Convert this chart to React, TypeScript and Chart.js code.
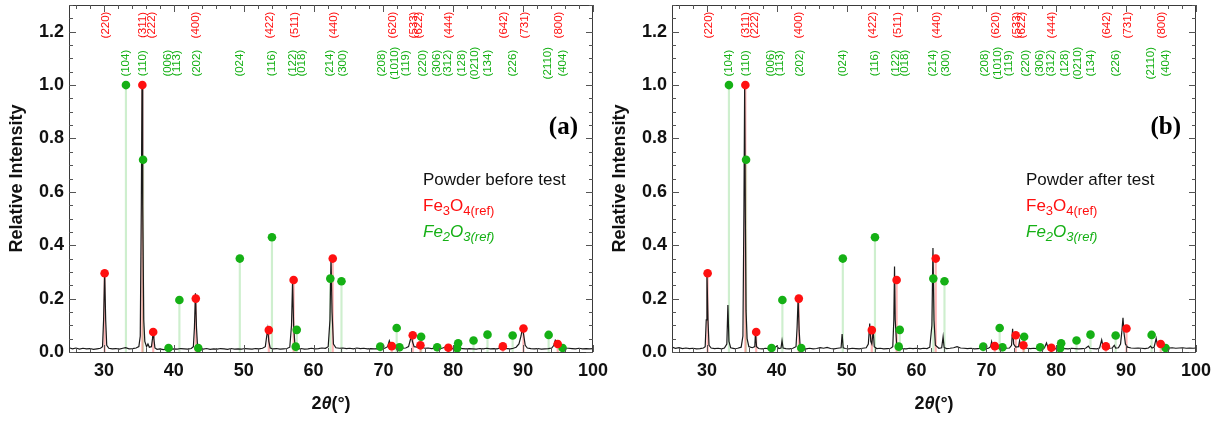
import React, { useEffect, useRef } from 'react';
import { Chart, registerables } from 'chart.js';

Chart.register(...registerables);

// ---------- DATA ----------
// Measured XRD scan, powder before test: [2θ, relative intensity]
const scanBefore: [number, number][] = [
  [25.0, 0.016], [25.5, 0.012], [26.0, 0.015], [26.5, 0.011], [27.0, 0.014], [27.5, 0.012], [28.0, 0.013],
  [28.5, 0.010], [29.0, 0.012], [29.5, 0.014], [29.8, 0.02], [29.95, 0.12], [30.1, 0.30], [30.25, 0.12],
  [30.4, 0.025], [30.7, 0.014], [31.2, 0.012], [31.7, 0.013], [32.2, 0.011], [32.7, 0.014], [33.1, 0.016],
  [33.6, 0.012], [34.1, 0.013], [34.6, 0.015], [35.0, 0.02], [35.2, 0.06], [35.35, 0.55], [35.45, 1.0],
  [35.55, 0.55], [35.7, 0.12], [35.85, 0.04], [36.1, 0.02], [36.3, 0.03], [36.5, 0.018], [36.8, 0.02],
  [36.95, 0.05], [37.05, 0.08], [37.15, 0.05], [37.3, 0.015], [37.6, 0.01], [38.0, 0.012], [38.5, 0.009],
  [39.0, 0.011], [39.5, 0.01], [40.0, 0.012], [40.5, 0.011], [41.0, 0.013], [41.5, 0.012], [42.0, 0.011],
  [42.5, 0.013], [42.8, 0.02], [42.95, 0.09], [43.1, 0.22], [43.25, 0.09], [43.4, 0.02], [43.7, 0.012],
  [44.2, 0.011], [44.7, 0.013], [45.2, 0.01], [45.7, 0.012], [46.2, 0.011], [46.7, 0.013], [47.2, 0.012],
  [47.7, 0.01], [48.2, 0.013], [48.7, 0.011], [49.2, 0.012], [49.7, 0.011], [50.2, 0.013], [50.7, 0.012],
  [51.2, 0.011], [51.7, 0.013], [52.2, 0.012], [52.7, 0.014], [53.1, 0.02], [53.3, 0.06], [53.45, 0.086],
  [53.6, 0.04], [53.8, 0.015], [54.2, 0.012], [54.7, 0.013], [55.2, 0.011], [55.7, 0.012], [56.2, 0.013],
  [56.6, 0.018], [56.85, 0.1], [57.0, 0.267], [57.15, 0.1], [57.35, 0.02], [57.7, 0.012], [58.2, 0.013],
  [58.7, 0.011], [59.2, 0.012], [59.7, 0.014], [60.2, 0.012], [60.7, 0.013], [61.2, 0.015], [61.7, 0.014],
  [62.1, 0.02], [62.35, 0.12], [62.5, 0.357], [62.65, 0.15], [62.85, 0.03], [63.2, 0.016], [63.7, 0.014],
  [64.2, 0.015], [64.7, 0.013], [65.2, 0.014], [65.7, 0.012], [66.2, 0.015], [66.7, 0.013], [67.2, 0.014],
  [67.7, 0.012], [68.2, 0.013], [68.7, 0.012], [69.2, 0.013], [69.7, 0.012], [70.2, 0.014], [70.6, 0.02],
  [70.85, 0.042], [71.0, 0.03], [71.3, 0.02], [71.7, 0.016], [72.2, 0.015], [72.7, 0.014], [73.2, 0.015],
  [73.6, 0.02], [73.85, 0.045], [74.0, 0.062], [74.15, 0.04], [74.4, 0.02], [74.8, 0.018], [75.1, 0.025],
  [75.25, 0.03], [75.5, 0.018], [75.9, 0.014], [76.4, 0.015], [76.9, 0.013], [77.4, 0.014], [77.9, 0.012],
  [78.4, 0.014], [78.8, 0.018], [79.0, 0.022], [79.3, 0.014], [79.8, 0.013], [80.3, 0.012], [80.8, 0.014],
  [81.3, 0.013], [81.8, 0.012], [82.3, 0.013], [82.8, 0.012], [83.3, 0.011], [83.8, 0.013], [84.3, 0.012],
  [84.8, 0.014], [85.3, 0.012], [85.8, 0.013], [86.3, 0.012], [86.7, 0.016], [86.95, 0.022], [87.2, 0.014],
  [87.7, 0.013], [88.2, 0.012], [88.6, 0.014], [89.0, 0.018], [89.4, 0.03], [89.7, 0.06], [89.9, 0.09],
  [90.1, 0.06], [90.3, 0.025], [90.6, 0.015], [91.1, 0.013], [91.6, 0.012], [92.1, 0.013], [92.6, 0.011],
  [93.1, 0.012], [93.6, 0.013], [94.1, 0.015], [94.4, 0.025], [94.6, 0.044], [94.8, 0.035], [95.1, 0.025],
  [95.5, 0.018], [96.0, 0.015], [96.5, 0.014], [97.0, 0.013], [97.5, 0.012], [98.0, 0.014], [98.5, 0.012],
  [99.0, 0.013], [99.5, 0.012], [100.0, 0.013],
];

// Measured XRD scan, powder after test
const scanAfter: [number, number][] = [
  [25.0, 0.018], [25.5, 0.014], [26.0, 0.016], [26.5, 0.013], [27.0, 0.015], [27.5, 0.013], [28.0, 0.014],
  [28.5, 0.012], [29.0, 0.013], [29.5, 0.015], [29.75, 0.02], [29.9, 0.12], [30.0, 0.30], [30.15, 0.12],
  [30.3, 0.025], [30.6, 0.015], [31.1, 0.013], [31.6, 0.014], [32.1, 0.012], [32.5, 0.015], [32.85, 0.03],
  [33.0, 0.176], [33.15, 0.04], [33.4, 0.016], [33.9, 0.013], [34.4, 0.014], [34.9, 0.018], [35.15, 0.06],
  [35.3, 0.55], [35.4, 1.0], [35.5, 0.5], [35.6, 0.154], [35.75, 0.05], [36.0, 0.02], [36.5, 0.016],
  [36.85, 0.02], [36.95, 0.075], [37.1, 0.02], [37.4, 0.013], [37.9, 0.012], [38.4, 0.014], [38.9, 0.012],
  [39.3, 0.013], [39.7, 0.016], [40.0, 0.022], [40.3, 0.013], [40.6, 0.015], [40.75, 0.042], [40.9, 0.015],
  [41.3, 0.013], [41.8, 0.012], [42.3, 0.014], [42.75, 0.02], [42.9, 0.09], [43.05, 0.2], [43.2, 0.08],
  [43.35, 0.018], [43.7, 0.013], [44.2, 0.012], [44.7, 0.014], [45.2, 0.012], [45.7, 0.013], [46.2, 0.016],
  [46.7, 0.014], [47.2, 0.017], [47.7, 0.013], [48.2, 0.012], [48.7, 0.014], [49.2, 0.016], [49.35, 0.067],
  [49.5, 0.016], [49.8, 0.013], [50.3, 0.012], [50.8, 0.014], [51.3, 0.013], [51.8, 0.012], [52.3, 0.014],
  [52.8, 0.016], [53.1, 0.03], [53.3, 0.107], [53.45, 0.04], [53.6, 0.03], [53.8, 0.082], [53.95, 0.02],
  [54.3, 0.013], [54.8, 0.014], [55.3, 0.012], [55.8, 0.013], [56.3, 0.014], [56.6, 0.02], [56.75, 0.12],
  [56.85, 0.32], [56.95, 0.12], [57.15, 0.03], [57.5, 0.014], [58.0, 0.013], [58.5, 0.012], [59.0, 0.014],
  [59.5, 0.013], [60.0, 0.014], [60.5, 0.012], [61.0, 0.014], [61.5, 0.013], [61.9, 0.018], [62.2, 0.1],
  [62.35, 0.39], [62.5, 0.12], [62.7, 0.025], [63.2, 0.014], [63.6, 0.016], [63.8, 0.057], [63.95, 0.017],
  [64.3, 0.013], [64.8, 0.014], [65.3, 0.016], [65.8, 0.02], [66.3, 0.015], [66.8, 0.014], [67.3, 0.013],
  [67.8, 0.014], [68.3, 0.012], [68.8, 0.013], [69.3, 0.014], [69.8, 0.012], [70.3, 0.014], [70.6, 0.02],
  [70.75, 0.039], [70.9, 0.02], [71.3, 0.016], [71.8, 0.014], [72.3, 0.013], [72.8, 0.014], [73.3, 0.015],
  [73.6, 0.025], [73.75, 0.087], [73.9, 0.03], [74.2, 0.018], [74.6, 0.02], [74.75, 0.042], [74.9, 0.02],
  [75.3, 0.015], [75.8, 0.014], [76.3, 0.013], [76.8, 0.014], [77.3, 0.012], [77.8, 0.013], [78.3, 0.015],
  [78.6, 0.034], [78.8, 0.018], [79.2, 0.014], [79.7, 0.013], [80.2, 0.012], [80.7, 0.014], [81.2, 0.013],
  [81.7, 0.012], [82.2, 0.014], [82.7, 0.013], [83.2, 0.012], [83.7, 0.013], [84.2, 0.014], [84.6, 0.022],
  [84.8, 0.014], [85.3, 0.013], [85.8, 0.012], [86.2, 0.015], [86.5, 0.045], [86.7, 0.02], [87.1, 0.015],
  [87.6, 0.014], [88.0, 0.015], [88.3, 0.025], [88.5, 0.015], [88.9, 0.016], [89.2, 0.03], [89.4, 0.08],
  [89.55, 0.128], [89.7, 0.07], [89.9, 0.03], [90.2, 0.018], [90.7, 0.015], [91.2, 0.014], [91.7, 0.015],
  [92.2, 0.014], [92.7, 0.013], [93.2, 0.015], [93.5, 0.022], [93.7, 0.015], [94.0, 0.018], [94.2, 0.04],
  [94.3, 0.051], [94.45, 0.03], [94.7, 0.02], [95.1, 0.017], [95.6, 0.016], [96.1, 0.015], [96.6, 0.016],
  [97.1, 0.014], [97.6, 0.015], [98.1, 0.016], [98.6, 0.014], [99.1, 0.015], [99.6, 0.014], [100.0, 0.015],
];

// Fe3O4 reference peaks
const fe3o4Pos = [30.1, 35.5, 37.05, 43.15, 53.6, 57.15, 62.75, 71.2, 74.2, 75.3, 79.3, 87.1, 90.05, 94.95];
const fe3o4Int = [0.295, 1.0, 0.075, 0.2, 0.082, 0.27, 0.35, 0.022, 0.063, 0.025, 0.016, 0.021, 0.088, 0.03];
const fe3o4Labels = ['(220)', '(311)', '(222)', '(400)', '(422)', '(511)', '(440)', '(620)', '(533)', '(622)', '(444)', '(642)', '(731)', '(800)'];
const fe3o4LabelPos = [30.2, 35.5, 36.85, 43.2, 53.7, 57.3, 62.9, 71.3, 74.4, 75.1, 79.4, 87.2, 90.2, 95.1];

// Fe2O3 reference peaks
const fe2o3Pos = [33.15, 35.6, 39.25, 40.8, 43.5, 49.45, 54.05, 57.45, 57.6, 62.4, 64.0, 69.55, 71.9, 72.3, 75.4, 77.7, 80.55, 80.7, 82.9, 84.9, 88.5, 93.65, 95.65];
const fe2o3Int = [1.0, 0.72, 0.015, 0.195, 0.015, 0.35, 0.43, 0.02, 0.083, 0.275, 0.265, 0.02, 0.09, 0.018, 0.057, 0.018, 0.014, 0.033, 0.043, 0.065, 0.062, 0.064, 0.015];
const fe2o3Labels = ['(104)', '(110)', '(006)', '(113)', '(202)', '(024)', '(116)', '(122)', '(018)', '(214)', '(300)', '(208)', '(1010)', '(119)', '(220)', '(306)', '(312)', '(128)', '(0210)', '(134)', '(226)', '(2110)', '(404)'];
const fe2o3LabelPos = [33.1, 35.6, 39.2, 40.5, 43.3, 49.5, 54.0, 57.05, 58.3, 62.3, 64.2, 69.8, 71.6, 73.2, 75.6, 77.6, 79.2, 81.2, 83.1, 84.95, 88.5, 93.5, 95.7];

const xTickValues = [30, 40, 50, 60, 70, 80, 90, 100];
const yTickValues = [0, 0.2, 0.4, 0.6, 0.8, 1.0, 1.2];

// ---------- STYLE ----------
const RED = '#ff1010';
const GREEN = '#15b015';
const SANS = '"Liberation Sans", Arial, sans-serif';

const decorPlugin = {
  id: 'decor',
  afterDatasetsDraw(chart: any) {
    const { ctx, chartArea: a, scales } = chart;
    const x = scales.x;
    const y = scales.y;
    ctx.save();
    ctx.strokeStyle = '#3a3a3a';
    ctx.lineWidth = 1;
    ctx.strokeRect(Math.round(a.left) + 0.5, Math.round(a.top) + 0.5, Math.round(a.right - a.left) - 1, Math.round(a.bottom - a.top));
    ctx.strokeStyle = '#555';
    ctx.beginPath();
    for (let v = 26; v <= 100.001; v += 2) {
      const px = Math.round(x.getPixelForValue(v)) + 0.5;
      const len = Math.abs(v % 10) < 1e-6 ? 7 : 4;
      ctx.moveTo(px, a.bottom); ctx.lineTo(px, a.bottom - len);
      ctx.moveTo(px, a.top); ctx.lineTo(px, a.top + len);
    }
    for (let i = 0; i <= 26; i++) {
      const v = i * 0.05;
      const py = Math.round(y.getPixelForValue(v)) + 0.5;
      const len = i % 4 === 0 ? 7 : 4;
      ctx.moveTo(a.left, py); ctx.lineTo(a.left + len, py);
      ctx.moveTo(a.right, py); ctx.lineTo(a.right - len, py);
    }
    ctx.stroke();
    ctx.restore();
  },
  afterDraw(chart: any, _args: any, opts: any) {
    const { ctx, chartArea: a, scales } = chart;
    const x = scales.x;
    const y = scales.y;
    ctx.save();
    ctx.font = `11.5px ${SANS}`;
    ctx.textAlign = 'center';
    ctx.textBaseline = 'middle';
    const drawRot = (txt: string, xv: number, yv: number, color: string) => {
      ctx.save();
      ctx.translate(x.getPixelForValue(xv), y.getPixelForValue(yv));
      ctx.rotate(-Math.PI / 2);
      ctx.fillStyle = color;
      ctx.fillText(txt, 0, 0);
      ctx.restore();
    };
    fe3o4Labels.forEach((t, i) => drawRot(t, fe3o4LabelPos[i], 1.225, RED));
    fe2o3Labels.forEach((t, i) => drawRot(t, fe2o3LabelPos[i], 1.082, GREEN));

    ctx.fillStyle = '#111';
    ctx.font = `bold 18px ${SANS}`;
    ctx.save();
    ctx.translate(17, (a.top + a.bottom) / 2);
    ctx.rotate(-Math.PI / 2);
    ctx.textAlign = 'center';
    ctx.textBaseline = 'middle';
    ctx.fillText('Relative Intensity', 0, 0);
    ctx.restore();

    const parts: [string, string][] = [['2', `bold 18px ${SANS}`], ['θ', `italic bold 18px ${SANS}`], ['(°)', `bold 18px ${SANS}`]];
    let total = 0;
    parts.forEach(([t, f]) => { ctx.font = f; total += ctx.measureText(t).width; });
    let cx = (a.left + a.right) / 2 - total / 2;
    ctx.textAlign = 'left';
    ctx.textBaseline = 'alphabetic';
    parts.forEach(([t, f]) => { ctx.font = f; ctx.fillText(t, cx, 409); cx += ctx.measureText(t).width; });

    ctx.font = 'bold 25px "Liberation Serif", "Times New Roman", serif';
    ctx.textAlign = 'right';
    ctx.fillStyle = '#000';
    ctx.fillText(opts.tag, 578, 134);

    ctx.textAlign = 'left';
    const lx = 423;
    ctx.font = `17px ${SANS}`;
    ctx.fillStyle = '#111';
    ctx.fillText(opts.title, lx, 185);

    const drawFormula = (segs: [string, boolean][], baseY: number, color: string, italic: boolean) => {
      let px = lx;
      ctx.fillStyle = color;
      segs.forEach(([t, sub]) => {
        ctx.font = `${italic ? 'italic ' : ''}${sub ? 13 : 17}px ${SANS}`;
        ctx.fillText(t, px, baseY + (sub ? 4 : 0));
        px += ctx.measureText(t).width;
      });
    };
    drawFormula([['Fe', false], ['3', true], ['O', false], ['4', true], ['(ref)', true]], 211, RED, false);
    drawFormula([['Fe', false], ['2', true], ['O', false], ['3', true], ['(ref)', true]], 237, GREEN, true);
    ctx.restore();
  },
};

function buildConfig(scan: [number, number][], title: string, tag: string) {
  const tickFont = { family: SANS, size: 18, weight: 'bold' as const };
  return {
    type: 'scatter' as const,
    data: {
      datasets: [
        {
          type: 'scatter',
          data: fe3o4Pos.map((p, i) => ({ x: p, y: fe3o4Int[i] })),
          backgroundColor: RED,
          borderWidth: 0,
          pointRadius: 4.3,
          order: 0,
        },
        {
          type: 'scatter',
          data: fe2o3Pos.map((p, i) => ({ x: p, y: fe2o3Int[i] })),
          backgroundColor: GREEN,
          borderWidth: 0,
          pointRadius: 4.3,
          order: 0,
        },
        {
          type: 'line',
          data: scan.map(([px, py]) => ({ x: px, y: py })),
          borderColor: '#1a1a1a',
          borderWidth: 1.2,
          pointRadius: 0,
          tension: 0,
          fill: false,
          order: 1,
        },
        {
          type: 'bar',
          data: fe3o4Pos.map((p, i) => ({ x: p, y: fe3o4Int[i] })),
          backgroundColor: 'rgba(255,90,90,0.45)',
          barThickness: 1.5,
          grouped: false,
          order: 2,
        },
        {
          type: 'bar',
          data: fe2o3Pos.map((p, i) => ({ x: p, y: fe2o3Int[i] })),
          backgroundColor: 'rgba(60,190,60,0.25)',
          barThickness: 1.5,
          grouped: false,
          order: 3,
        },
      ],
    },
    options: {
      animation: false,
      responsive: false,
      maintainAspectRatio: false,
      layout: { padding: { left: 0, right: 18, top: 5, bottom: 0 } },
      plugins: {
        legend: { display: false },
        tooltip: { enabled: false },
        decor: { title, tag },
      },
      scales: {
        x: {
          type: 'linear',
          min: 25,
          max: 100,
          offset: false,
          grid: { display: false, drawTicks: false },
          border: { display: false },
          afterBuildTicks: (s: any) => { s.ticks = xTickValues.map((v) => ({ value: v })); },
          afterFit: (s: any) => { s.height = 69; s.paddingLeft = 0; s.paddingRight = 0; s.paddingTop = 0; s.paddingBottom = 0; },
          ticks: { font: tickFont, color: '#111', padding: 8, maxRotation: 0, autoSkip: false, callback: (v: any) => String(v) },
        },
        y: {
          type: 'linear',
          min: 0,
          max: 1.3,
          grid: { display: false, drawTicks: false },
          border: { display: false },
          afterBuildTicks: (s: any) => { s.ticks = yTickValues.map((v) => ({ value: v })); },
          afterFit: (s: any) => { s.width = 69; s.paddingLeft = 0; s.paddingRight = 0; s.paddingTop = 0; s.paddingBottom = 0; },
          ticks: { font: tickFont, color: '#111', padding: 5, callback: (v: any) => Number(v).toFixed(1) },
        },
      },
    },
    plugins: [decorPlugin],
  };
}

function Panel({ scan, title, tag, left }: { scan: [number, number][]; title: string; tag: string; left: number }) {
  const ref = useRef<HTMLCanvasElement | null>(null);
  useEffect(() => {
    if (!ref.current) return;
    const chart = new Chart(ref.current, buildConfig(scan, title, tag) as any);
    return () => chart.destroy();
  }, [scan, title, tag]);
  return (
    <canvas
      ref={ref}
      width={611}
      height={421}
      style={{ position: 'absolute', left, top: 0, width: 611, height: 421 }}
    />
  );
}

export default function App() {
  return (
    <div style={{ position: 'absolute', left: 0, top: 0, width: 1222, height: 421, background: '#fff', overflow: 'hidden' }}>
      <Panel scan={scanBefore} title="Powder before test" tag="(a)" left={0} />
      <Panel scan={scanAfter} title="Powder after test" tag="(b)" left={603} />
    </div>
  );
}
